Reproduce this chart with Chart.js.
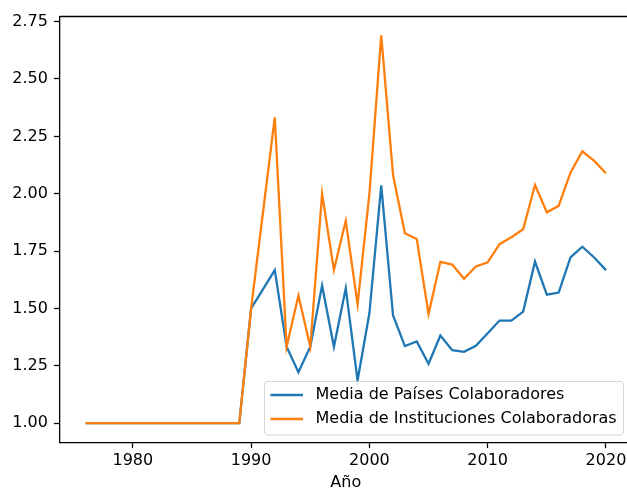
<!DOCTYPE html>
<html>
<head>
<meta charset="utf-8">
<script src="https://cdn.jsdelivr.net/npm/chart.js@4.4.1/dist/chart.umd.min.js"></script>
<style>
  html, body { margin: 0; padding: 0; background: #fff; overflow: hidden; width: 627px; height: 489px; }
  #c { display: block; }
</style>
</head>
<body>
<canvas id="c" width="640" height="489"></canvas>
<script>
const years = [1976, 1977, 1978, 1979, 1980, 1981, 1982, 1983, 1984, 1985, 1986, 1987, 1988, 1989,
  1990, 1991, 1992, 1993, 1994, 1995, 1996, 1997, 1998, 1999, 2000, 2001, 2002, 2003, 2004, 2005,
  2006, 2007, 2008, 2009, 2010, 2011, 2012, 2013, 2014, 2015, 2016, 2017, 2018, 2019, 2020];

const mediaPaises = [1.0, 1.0, 1.0, 1.0, 1.0, 1.0, 1.0, 1.0, 1.0, 1.0, 1.0, 1.0, 1.0, 1.0,
  1.5, 1.583, 1.667, 1.333, 1.222, 1.333, 1.6, 1.333, 1.588, 1.186, 1.48, 2.036, 1.469, 1.336, 1.356, 1.259,
  1.382, 1.318, 1.311, 1.337, 1.392, 1.447, 1.447, 1.486, 1.704, 1.56, 1.569, 1.722, 1.769, 1.722, 1.667];

const mediaInstituciones = [1.0, 1.0, 1.0, 1.0, 1.0, 1.0, 1.0, 1.0, 1.0, 1.0, 1.0, 1.0, 1.0, 1.0,
  1.5, 1.917, 2.333, 1.333, 1.556, 1.333, 2.0, 1.667, 1.882, 1.517, 2.0, 2.69, 2.08, 1.828, 1.803, 1.476,
  1.703, 1.691, 1.629, 1.683, 1.701, 1.78, 1.81, 1.845, 2.038, 1.919, 1.947, 2.092, 2.185, 2.143, 2.089];

const seriesLabels = ['Media de Países Colaboradores', 'Media de Instituciones Colaboradoras'];
const xTicks = [1980, 1990, 2000, 2010, 2020];
const yTicks = [1.00, 1.25, 1.50, 1.75, 2.00, 2.25, 2.50, 2.75];
const xTitle = 'Año';

const FONT = '"DejaVu Sans", sans-serif';
const SPINE = 1.28;

const toPoints = (vals) => years.map((y, i) => ({ x: y, y: vals[i] }));

const framePlugin = {
  id: 'frame',
  afterDatasetsDraw(chart) {
    const { ctx, chartArea: a } = chart;
    ctx.save();
    ctx.strokeStyle = '#000';
    ctx.lineWidth = SPINE;
    ctx.beginPath();
    ctx.moveTo(a.left, a.top);
    ctx.lineTo(a.right, a.top);
    ctx.lineTo(a.right, a.bottom);
    ctx.stroke();
    ctx.restore();
  }
};

const legendPlugin = {
  id: 'boxLegend',
  afterDraw(chart) {
    const { ctx } = chart;
    const box = { left: 264.5, top: 381.5, right: 623.5, bottom: 435 };
    const r = 3.2;
    ctx.save();
    ctx.beginPath();
    ctx.roundRect(box.left, box.top, box.right - box.left, box.bottom - box.top, r);
    ctx.fillStyle = 'rgba(255,255,255,0.8)';
    ctx.fill();
    ctx.lineWidth = 1;
    ctx.strokeStyle = 'rgba(204,204,204,0.8)';
    ctx.stroke();
    const rows = [395, 419];
    chart.data.datasets.forEach((ds, i) => {
      const y = rows[i];
      ctx.beginPath();
      ctx.moveTo(270.5, y);
      ctx.lineTo(303, y);
      ctx.strokeStyle = ds.borderColor;
      ctx.lineWidth = 2.3;
      ctx.stroke();
      ctx.fillStyle = '#000';
      ctx.font = '16px ' + FONT;
      ctx.textBaseline = 'middle';
      ctx.textAlign = 'left';
      ctx.fillText(ds.label, 315.5, y);
    });
    ctx.restore();
  }
};

new Chart(document.getElementById('c'), {
  type: 'line',
  data: {
    datasets: [
      {
        label: seriesLabels[0],
        data: toPoints(mediaPaises),
        borderColor: '#1f77b4',
        backgroundColor: '#1f77b4',
        borderWidth: 2.3,
        pointRadius: 0,
        tension: 0,
        fill: false,
        order: 1
      },
      {
        label: seriesLabels[1],
        data: toPoints(mediaInstituciones),
        borderColor: '#ff7f0e',
        backgroundColor: '#ff7f0e',
        borderWidth: 2.3,
        pointRadius: 0,
        tension: 0,
        fill: false,
        order: 0
      }
    ]
  },
  options: {
    responsive: false,
    animation: false,
    devicePixelRatio: 1,
    layout: { padding: { left: 0, top: 16.5, right: 8, bottom: 0 } },
    plugins: {
      legend: { display: false },
      tooltip: { enabled: false },
      title: { display: false }
    },
    scales: {
      x: {
        type: 'linear',
        min: 1973.8,
        max: 2022.2,
        afterFit(scale) { scale.height = 46.5; },
        afterBuildTicks(scale) { scale.ticks = xTicks.map(v => ({ value: v })); },
        border: { display: true, color: '#000', width: SPINE },
        grid: { display: true, drawOnChartArea: false, drawTicks: true, tickLength: 5.6, tickColor: '#000', tickWidth: SPINE },
        ticks: {
          color: '#000',
          font: { family: FONT, size: 16, lineHeight: 1.2 },
          padding: 3.3,
          maxRotation: 0,
          autoSkip: false,
          callback: (v) => String(v)
        },
        title: {
          display: true,
          text: xTitle,
          color: '#000',
          font: { family: FONT, size: 16, lineHeight: 0.76 },
          padding: { top: 0, bottom: 0 }
        }
      },
      y: {
        type: 'linear',
        min: 0.9156,
        max: 2.7724,
        afterFit(scale) { scale.width = 59.5; },
        afterBuildTicks(scale) { scale.ticks = yTicks.map(v => ({ value: v })); },
        border: { display: true, color: '#000', width: SPINE },
        grid: { display: true, drawOnChartArea: false, drawTicks: true, tickLength: 5.6, tickColor: '#000', tickWidth: SPINE },
        ticks: {
          color: '#000',
          font: { family: FONT, size: 16 },
          padding: 6,
          autoSkip: false,
          callback: (v) => Number(v).toFixed(2)
        }
      }
    }
  },
  plugins: [framePlugin, legendPlugin]
});
</script>
</body>
</html>
